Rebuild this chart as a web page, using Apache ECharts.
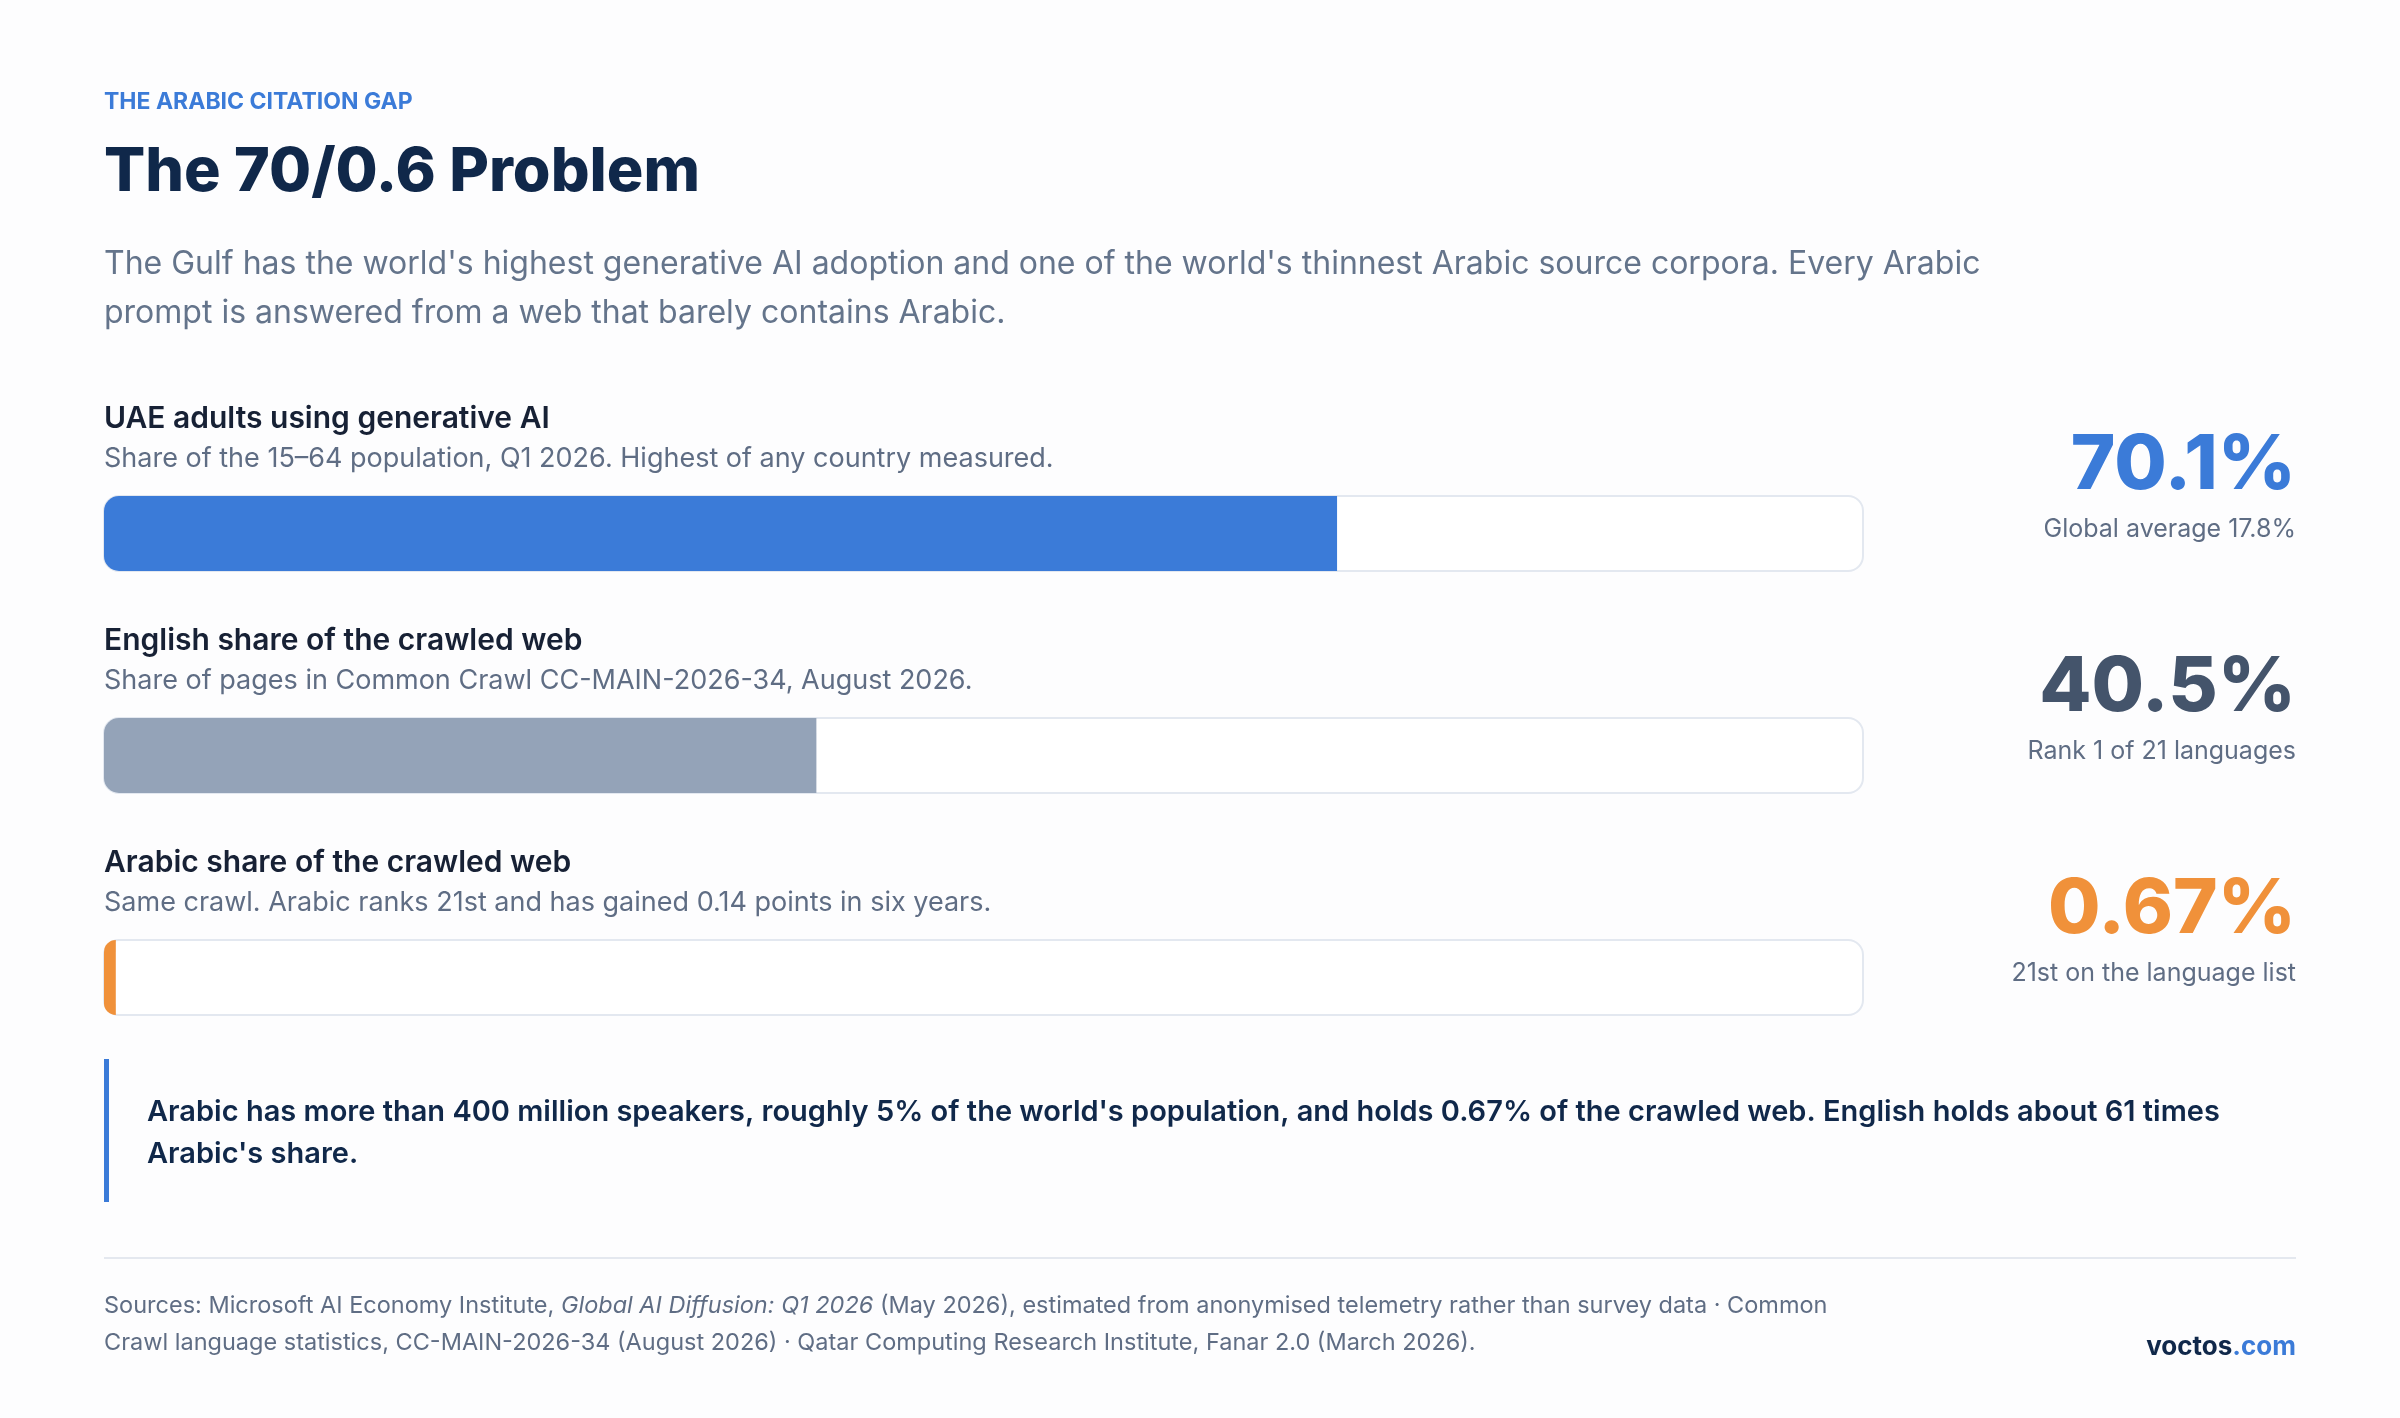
<!DOCTYPE html>
<html><head><meta charset="utf-8">
<script src="https://cdn.jsdelivr.net/npm/echarts@6/dist/echarts.min.js"></script>
<style>html,body{margin:0;padding:0;background:#fdfdfe}#c{width:2400px;height:1418px}</style>
</head><body><div id="c"></div>
<script>
const categories = ['UAE adults using generative AI','English share of the crawled web','Arabic share of the crawled web'];
const subtitles = ['Share of the 15–64 population, Q1 2026. Highest of any country measured.','Share of pages in Common Crawl CC-MAIN-2026-34, August 2026.','Same crawl. Arabic ranks 21st and has gained 0.14 points in six years.'];
const values = [70.1, 40.5, 0.67];
const valueLabels = ['70.1%','40.5%','0.67%'];
const notes = ['Global average 17.8%','Rank 1 of 21 languages','21st on the language list'];
const colors = ['#3b7bd8','#94a3b8','#f0913a'];
const numColors = ['#3b7bd8','#44546b','#f0913a'];

const chart = echarts.init(document.getElementById('c'));
const F = 'Inter, "Noto Sans", sans-serif';
const L = 104, R = 2296;
const rowTop = 422.5, rowH = 222;
const g = [
 {type:'text',left:L,top:91,style:{text:'THE ARABIC CITATION GAP',font:'700 23px '+F,fill:'#3b7bd8'}},
 {type:'text',left:L,top:142,style:{text:'The 70/0.6 Problem',font:'800 61px '+F,fill:'#10284a'}},
 {type:'text',left:L,top:240,style:{text:"The Gulf has the world's highest generative AI adoption and one of the world's thinnest Arabic source corpora. Every Arabic\nprompt is answered from a web that barely contains Arabic.",font:'400 32px '+F,fill:'#64748b',lineHeight:49}},
];
categories.forEach((c,i)=>{
  const cy = rowTop + rowH*i + rowH/2;
  g.push({type:'text',left:L,top:cy-130,style:{text:c,font:'600 30px '+F,fill:'#172135'}});
  g.push({type:'text',left:L,top:cy-88,style:{text:subtitles[i],font:'400 27px '+F,fill:'#5f6d84'}});
  g.push({type:'text',right:2400-R,top:cy-105,style:{text:valueLabels[i],font:'800 76px '+F,fill:numColors[i],align:'right'}});
  g.push({type:'text',right:2400-R,top:cy-17,style:{text:notes[i],font:'400 25px '+F,fill:'#5f6d84',align:'right'}});
});
g.push({type:'rect',shape:{x:L,y:1059,width:5,height:143},style:{fill:'#3b7bd8'}});
g.push({type:'text',left:147,top:1091,style:{text:"Arabic has more than 400 million speakers, roughly 5% of the world's population, and holds 0.67% of the crawled web. English holds about 61 times\nArabic's share.",font:'600 29px '+F,fill:'#10284a',lineHeight:42}});
g.push({type:'rect',shape:{x:L,y:1257,width:R-L,height:2},style:{fill:'#e4e8ef'}});
g.push({type:'text',left:L,top:1294,style:{rich:{a:{font:'400 23.5px '+F,fill:'#5f6d84',lineHeight:37},i:{font:'italic 400 23.5px '+F,fill:'#5f6d84',lineHeight:37}},
  text:'{a|Sources: Microsoft AI Economy Institute, }{i|Global AI Diffusion: Q1 2026}{a| (May 2026), estimated from anonymised telemetry rather than survey data · Common}\n{a|Crawl language statistics, CC-MAIN-2026-34 (August 2026) · Qatar Computing Research Institute, Fanar 2.0 (March 2026).}'}});
g.push({type:'text',right:2400-R,top:1334,style:{rich:{a:{font:'700 26px '+F,fill:'#10284a'},b:{font:'700 26px '+F,fill:'#3b7bd8'}},text:'{a|voctos}{b|.com}'}});

chart.setOption({
  backgroundColor:'#fdfdfe',
  animation:false,
  grid:{left:L,top:rowTop,width:1759,height:rowH*3},
  xAxis:{type:'value',min:0,max:100,show:false},
  yAxis:{type:'category',data:categories,inverse:true,show:false},
  series:[{type:'bar',barWidth:75,
    data:values.map((v,i)=>({value:v,itemStyle:{color:colors[i]}})),
    itemStyle:{borderRadius:[15,0,0,15]},
    showBackground:true,
    backgroundStyle:{color:'#ffffff',borderColor:'#e3e8f0',borderWidth:2,borderRadius:15}
  }],
  graphic:g
});
</script></body></html>
